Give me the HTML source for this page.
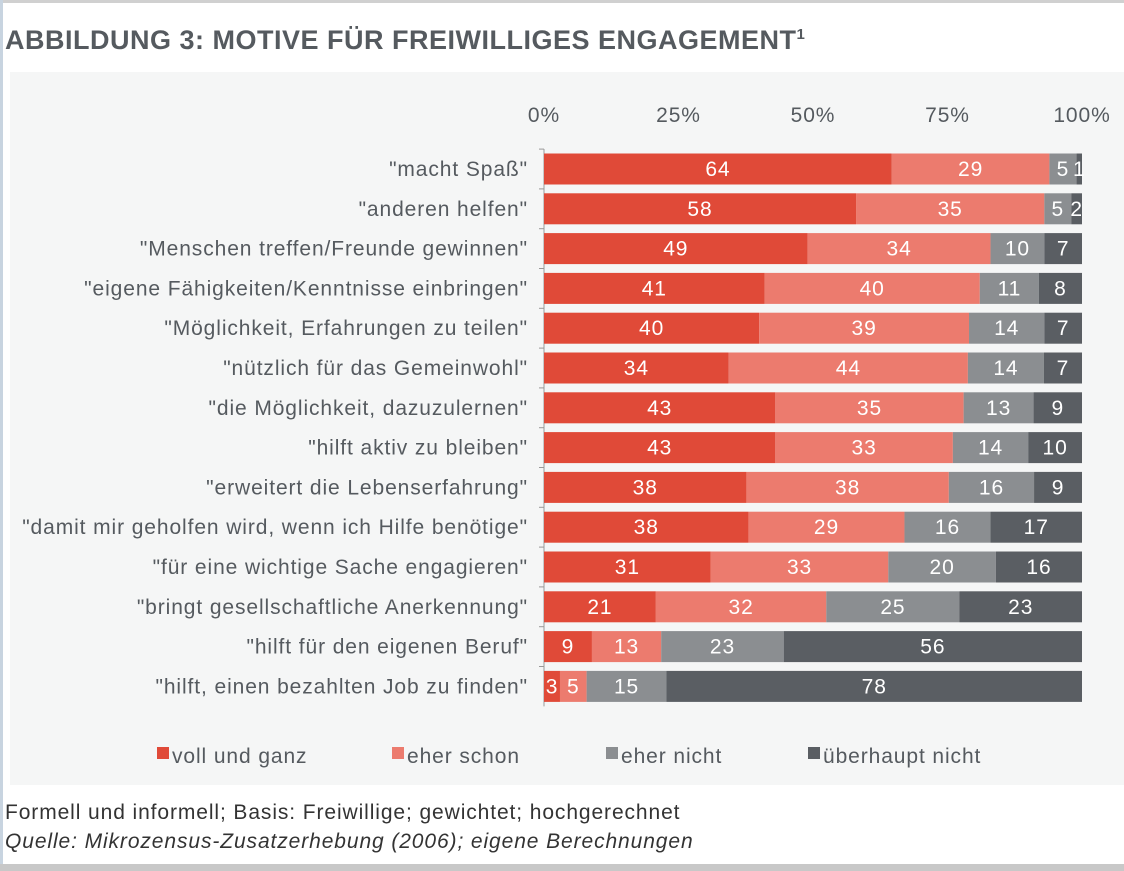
<!DOCTYPE html>
<html><head><meta charset="utf-8"><style>
body{margin:0;width:1124px;height:871px;overflow:hidden;background:#fff;font-family:"Liberation Sans",sans-serif;position:relative}
svg text{letter-spacing:0.9px}
</style></head><body>
<div style="position:absolute;left:0;top:0;width:1124px;height:3px;background:#d0d0d0"></div>
<div style="position:absolute;left:0;top:0;width:3px;height:871px;background:#c8d4e0"></div>
<div style="position:absolute;left:5px;top:25px;font-size:27px;letter-spacing:0.5px;font-weight:bold;color:#555a5f;white-space:nowrap">ABBILDUNG 3: MOTIVE FÜR FREIWILLIGES ENGAGEMENT<sup style="font-size:15px">1</sup></div>
<div style="position:absolute;left:10px;top:72px;width:1114px;height:713px;background:#f5f6f6"></div>
<svg width="1124" height="871" style="position:absolute;left:0;top:0" id="svg"></svg>
<div style="position:absolute;left:5px;top:801px;font-size:21px;letter-spacing:0.9px;color:#333;white-space:nowrap">Formell und informell; Basis: Freiwillige; gewichtet; hochgerechnet</div>
<div style="position:absolute;left:5px;top:830px;font-size:21px;letter-spacing:0.9px;color:#333;font-style:italic;white-space:nowrap">Quelle: Mikrozensus-Zusatzerhebung (2006); eigene Berechnungen</div>
<div style="position:absolute;left:0;top:864px;width:1124px;height:7px;background:#c8c8c8"></div>
<script>
const categories=['"macht Spaß"','"anderen helfen"','"Menschen treffen/Freunde gewinnen"','"eigene Fähigkeiten/Kenntnisse  einbringen"','"Möglichkeit, Erfahrungen zu teilen"','"nützlich für das Gemeinwohl"','"die Möglichkeit, dazuzulernen"','"hilft aktiv zu bleiben"','"erweitert die Lebenserfahrung"','"damit mir geholfen wird, wenn  ich Hilfe benötige"','"für eine wichtige Sache engagieren"','"bringt gesellschaftliche Anerkennung"','"hilft für den eigenen Beruf"','"hilft, einen bezahlten  Job zu finden"'];
const vollUndGanz=[64,58,49,41,40,34,43,43,38,38,31,21,9,3];
const eherSchon=[29,35,34,40,39,44,35,33,38,29,33,32,13,5];
const eherNicht=[5,5,10,11,14,14,13,14,16,16,20,25,23,15];
const ueberhauptNicht=[1,2,7,8,7,7,9,10,9,17,16,23,56,78];
const seriesNames=['voll und ganz','eher schon','eher nicht','überhaupt nicht'];
const ticks=[0,25,50,75,100];
const colors=['#e04a38','#ec7b6e','#8b8e91','#5a5e63'];
const X0=544,X1=1082;
const x=v=>X0+(X1-X0)*v/100;
const y=i=>169+i*39.8;
const svg=document.getElementById('svg');
const NS='http://www.w3.org/2000/svg';
function mk(t,a,txt){const e=document.createElementNS(NS,t);for(const k in a)e.setAttribute(k,a[k]);if(txt!=null)e.textContent=txt;svg.appendChild(e);return e;}
ticks.forEach(t=>{const e=mk('text',{x:x(t),y:122,'text-anchor':'middle','font-size':21,fill:'#555a5f'},t+'%');

});
const ax=mk('line',{x1:X0,x2:X0,y1:y(0)-20,y2:y(13)+20,stroke:'#999'});


const series=[vollUndGanz,eherSchon,eherNicht,ueberhauptNicht];
categories.forEach((c,i)=>{
 const lb=mk('text',{x:528,y:y(i)+7,'text-anchor':'end','font-size':21,fill:'#555a5f'},c);
 
 
 const tot=series.reduce((s,a)=>s+a[i],0);
 let acc=0;
 series.forEach((a,k)=>{
  const v=a[i]/tot*100;
  const r=mk('rect',{x:x(acc),y:y(i)-15.5,width:x(acc+v)-x(acc),height:31,fill:colors[k]});
  
  
  const t=mk('text',{x:(x(acc)+x(acc+v))/2,y:y(i)+7,'text-anchor':'middle','font-size':21,fill:'#fff'},a[i]);
  
  
  acc+=v;
 });
 const tk=mk('line',{x1:X0-5,x2:X0,y1:y(i)-19.9,y2:y(i)-19.9,stroke:'#999'});
 
 
});
const lx=[157,392,606,808];
seriesNames.forEach((n,k)=>{
 const r=mk('rect',{x:lx[k],y:747,width:12,height:12,fill:colors[k]});
 
 
 const t=mk('text',{x:lx[k]+15,y:763,'font-size':21,fill:'#555a5f'},n);
 
 
});
</script>
</body></html>
